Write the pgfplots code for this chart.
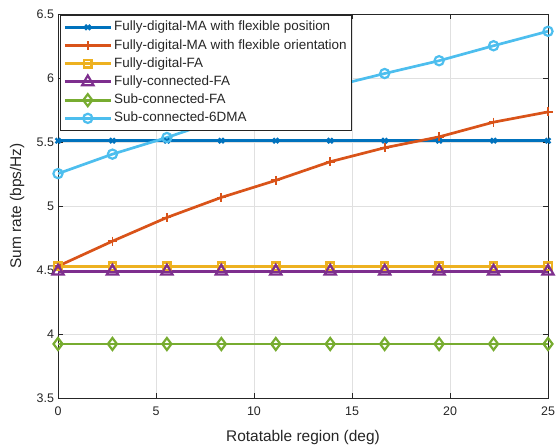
\documentclass[border=0pt]{standalone}
\usepackage{fontspec}
\setmainfont{Liberation Sans}
\usepackage{pgfplots}
\pgfplotsset{compat=1.18}
\definecolor{c1}{rgb}{0,0.447,0.741}
\definecolor{c2}{rgb}{0.85,0.325,0.098}
\definecolor{c3}{rgb}{0.929,0.694,0.125}
\definecolor{c4}{rgb}{0.494,0.184,0.556}
\definecolor{c5}{rgb}{0.466,0.674,0.188}
\definecolor{c6}{rgb}{0.301,0.745,0.933}
\definecolor{axc}{rgb}{0.15,0.15,0.15}
\begin{document}
\begin{tikzpicture}
\begin{axis}[
  scale only axis, width=490bp, height=384bp,
  xmin=0, xmax=25, ymin=3.5, ymax=6.5,
  xtick={0,5,...,25}, ytick={3.5,4,...,6.5},
  xtick pos=both, ytick pos=both, tick align=inside,
  major tick length=5bp,
  grid=major, major grid style={black!12, line width=0.6bp},
  axis line style={axc, line width=0.7bp},
  every tick/.style={axc, line width=0.7bp},
  /pgf/number format/assume math mode=true,
  tick label style={font=\fontsize{12.5}{14}\selectfont, text=axc},
  xticklabel style={yshift=-5bp},
  yticklabel style={xshift=-0.5bp},
  xlabel={Rotatable region (deg)},
  ylabel={Sum rate (bps/Hz)},
  xlabel style={font=\fontsize{15.5}{17}\selectfont, text=axc, at={(axis description cs:0.5,-0.1138)}, anchor=base},
  ylabel style={font=\fontsize{15.5}{17}\selectfont, text=axc, at={(axis description cs:-0.0755,0.5)}, anchor=base},
  legend cell align=left,
  legend style={at={(axis description cs:0,1)}, anchor=north west, xshift=2bp, yshift=-1bp,
    font=\fontsize{13.5}{15}\selectfont, text=axc, draw=axc, line width=0.7bp, fill=white,
    row sep=1.2bp, inner xsep=3bp, inner ysep=3.5bp,
    nodes={inner sep=2bp, text height=10bp, text depth=3bp}},
  legend image code/.code={\draw[mark repeat=2,mark phase=2] plot coordinates {(0bp,0bp) (23bp,0bp) (46bp,0bp)};},
]
\coordinate (ll) at (rel axis cs:0,0);
\coordinate (ur) at (rel axis cs:1,1);
\addplot[color=c1, line width=2.9bp, mark=x, mark size=3.5bp, mark options={solid, line width=2.2bp}] coordinates {
(0,5.51) (2.778,5.51) (5.556,5.51) (8.333,5.51) (11.111,5.51) (13.889,5.51) (16.667,5.51) (19.444,5.51) (22.222,5.51) (25,5.51)};
\addlegendentry{Fully-digital-MA with flexible position}
\addplot[color=c2, line width=2.7bp, mark=+, mark size=4.5bp, mark options={solid, line width=1.8bp}] coordinates {
(0,4.53) (2.778,4.725) (5.556,4.91) (8.333,5.067) (11.111,5.2) (13.889,5.346) (16.667,5.455) (19.444,5.54) (22.222,5.655) (25,5.735)};
\addlegendentry{Fully-digital-MA with flexible orientation}
\addplot[color=c3, line width=2.9bp, mark=square, mark size=3.7bp, mark options={solid, line width=2.2bp}] coordinates {
(0,4.53) (2.778,4.53) (5.556,4.53) (8.333,4.53) (11.111,4.53) (13.889,4.53) (16.667,4.53) (19.444,4.53) (22.222,4.53) (25,4.53)};
\addlegendentry{Fully-digital-FA}
\addplot[color=c4, line width=2.9bp, mark=triangle, mark size=6.5bp, mark options={solid, line width=2.2bp}] coordinates {
(0,4.49) (2.778,4.49) (5.556,4.49) (8.333,4.49) (11.111,4.49) (13.889,4.49) (16.667,4.49) (19.444,4.49) (22.222,4.49) (25,4.49)};
\addlegendentry{Fully-connected-FA}
\addplot[color=c5, line width=2.9bp, mark=diamond, mark size=6bp, mark options={solid, line width=2.2bp}] coordinates {
(0,3.922) (2.778,3.922) (5.556,3.922) (8.333,3.922) (11.111,3.922) (13.889,3.922) (16.667,3.922) (19.444,3.922) (22.222,3.922) (25,3.922)};
\addlegendentry{Sub-connected-FA}
\addplot[color=c6, line width=2.7bp, mark=o, mark size=4.6bp, mark options={solid, line width=2.2bp}] coordinates {
(0,5.253) (2.778,5.405) (5.556,5.535) (8.333,5.68) (11.111,5.81) (13.889,5.93) (16.667,6.035) (19.444,6.135) (22.222,6.252) (25,6.365)};
\addlegendentry{Sub-connected-6DMA}
\end{axis}
\pgfresetboundingbox
\path ([xshift=-58bp,yshift=-47bp]ll) rectangle ([xshift=9bp,yshift=14bp]ur);
\end{tikzpicture}
\end{document}
